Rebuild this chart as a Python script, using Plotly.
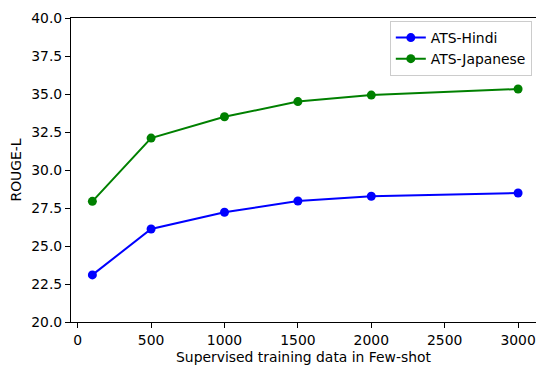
import plotly.graph_objects as go

train_sizes = [100, 500, 1000, 1500, 2000, 3000]
hindi = [23.1, 26.12, 27.22, 27.96, 28.27, 28.49]
japanese = [27.94, 32.1, 33.5, 34.5, 34.93, 35.33]
x_ticks = [0, 500, 1000, 1500, 2000, 2500, 3000]
y_ticks = [20.0, 22.5, 25.0, 27.5, 30.0, 32.5, 35.0, 37.5, 40.0]

font = dict(family="DejaVu Sans", size=13.9, color="black")

fig = go.Figure()
fig.add_trace(go.Scatter(x=train_sizes, y=hindi, mode="lines+markers", name="ATS-Hindi",
                         line=dict(color="blue", width=2), marker=dict(color="blue", size=9)))
fig.add_trace(go.Scatter(x=train_sizes, y=japanese, mode="lines+markers", name="ATS-Japanese",
                         line=dict(color="green", width=2), marker=dict(color="green", size=9)))

fig.update_layout(
    width=536, height=365,
    margin=dict(l=71, r=0, t=18, b=43),
    paper_bgcolor="white", plot_bgcolor="white",
    font=font,
    showlegend=True,
    legend=dict(x=0.991, y=0.99, xanchor="right", yanchor="top",
                bordercolor="#cccccc", borderwidth=1, bgcolor="white",
                font=font, itemwidth=30, tracegroupgap=0),
    xaxis=dict(range=[-45.6, 3122], tickvals=x_ticks, showgrid=False, zeroline=False,
               showline=True, linecolor="black", linewidth=1, mirror=True,
               ticks="outside", ticklen=5, tickcolor="black", tickwidth=1,
               title=dict(text="Supervised training data in Few-shot", font=font, standoff=6)),
    yaxis=dict(range=[20, 40], tickvals=y_ticks, tickformat=".1f", showgrid=False, zeroline=False,
               showline=True, linecolor="black", linewidth=1,
               ticks="outside", ticklen=5, tickcolor="black", tickwidth=1,
               title=dict(text="ROUGE-L", font=font, standoff=6)),
)

fig.write_html("out.html", config={"displayModeBar": False},
               post_script="document.body.style.margin='0';document.body.style.padding='0';document.body.style.overflow='hidden';")
